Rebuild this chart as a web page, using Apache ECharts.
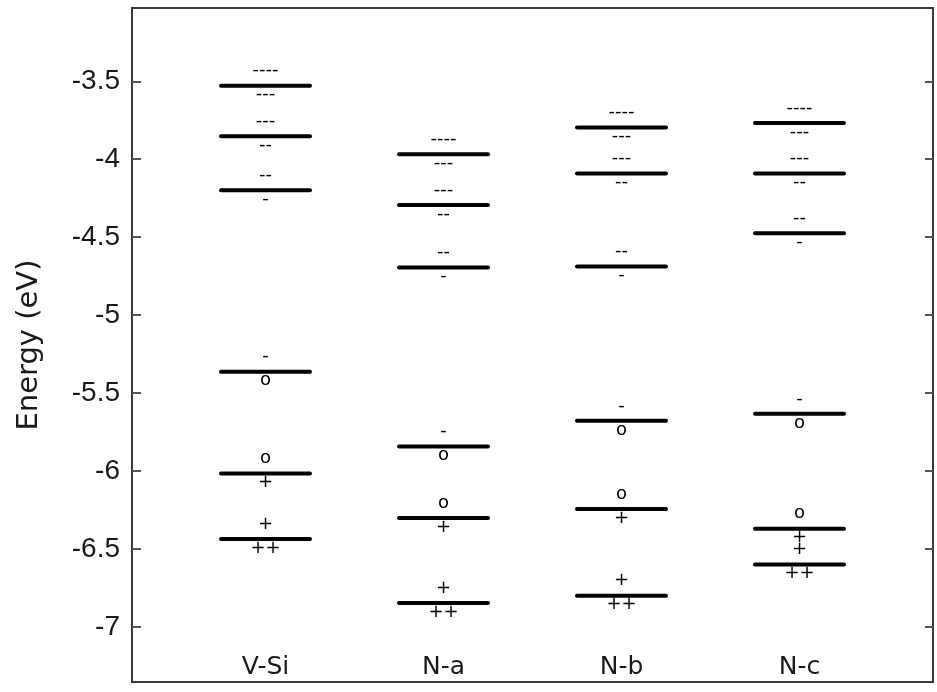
<!DOCTYPE html>
<html>
<head>
<meta charset="utf-8">
<script src="https://cdn.jsdelivr.net/npm/echarts@6/dist/echarts.min.js"></script>
<style>
html,body{margin:0;padding:0;background:#fff;}
#chart{width:937px;height:692px;}
</style>
</head>
<body>
<div id="chart"></div>
<script>
// ---- data ----
const categories = ["V-Si", "N-a", "N-b", "N-c"];
const vsiLevels = [-3.528, -3.853, -4.199, -5.363, -6.015, -6.436];
const naLevels  = [-3.968, -4.293, -4.695, -5.842, -6.301, -6.846];
const nbLevels  = [-3.797, -4.092, -4.688, -5.678, -6.244, -6.799];
const ncLevels  = [-3.767, -4.092, -4.474, -5.633, -6.370, -6.599];
const aboveLabels = ["----", "---", "--", "-", "o", "+"];
const belowLabels = ["---", "--", "-", "o", "+", "++"];
const yTickValues = [-7, -6.5, -6, -5.5, -5, -4.5, -4, -3.5];
const yAxisName = "Energy (eV)";

const allLevels = [vsiLevels, naLevels, nbLevels, ncLevels];
const seriesData = [];
allLevels.forEach((levels, ci) => {
  levels.forEach((e, li) => {
    seriesData.push([ci + 1, e, aboveLabels[li], belowLabels[li]]);
  });
});

const HALF_W = 0.25;
const chart = echarts.init(document.getElementById('chart'), null, {renderer: 'canvas'});
const axisColor = '#3a3a3a';
const tickColor = '#555';

const option = {
  animation: false,
  backgroundColor: '#fff',
  grid: {left: 132, right: 4, top: 8, bottom: 10, show: true, borderColor: axisColor, borderWidth: 2, backgroundColor: 'transparent'},
  xAxis: [{
    type: 'value', min: 0.25, max: 4.75,
    splitLine: {show: false},
    axisLine: {show: true, lineStyle: {color: axisColor, width: 2}},
    axisTick: {show: false},
    axisLabel: {
      show: true, inside: true, margin: 2,
      customValues: [1, 2, 3, 4],
      formatter: v => categories[Math.round(v) - 1] || '',
      fontFamily: 'DejaVu Sans', fontSize: 25, color: '#1a1a1a', verticalAlign: 'bottom'
    }
  }],
  yAxis: [{
    type: 'value', min: -7.353, max: -3.03,
    position: 'left',
    name: yAxisName, nameLocation: 'middle', nameGap: 88, nameRotate: 90,
    nameTextStyle: {fontFamily: 'DejaVu Sans', fontSize: 29, color: '#1a1a1a'},
    splitLine: {show: false},
    axisLine: {show: true, lineStyle: {color: axisColor, width: 2}},
    axisTick: {show: true, inside: true, length: 9, customValues: yTickValues, lineStyle: {color: tickColor, width: 2}},
    axisLabel: {customValues: yTickValues, margin: 12, fontFamily: 'Liberation Sans', fontSize: 28, color: '#1a1a1a'}
  }, {
    type: 'value', min: -7.353, max: -3.03,
    position: 'right',
    splitLine: {show: false},
    axisLine: {show: true, lineStyle: {color: axisColor, width: 2}},
    axisTick: {show: true, inside: true, length: 8, customValues: yTickValues, lineStyle: {color: tickColor, width: 2}},
    axisLabel: {show: false}
  }],
  series: [{
    type: 'custom',
    xAxisIndex: 0, yAxisIndex: 0,
    data: seriesData,
    renderItem: function (params, api) {
      const x = api.value(0), y = api.value(1);
      const p1 = api.coord([x - HALF_W, y]);
      const p2 = api.coord([x + HALF_W, y]);
      const cx = (p1[0] + p2[0]) / 2;
      const above = seriesData[params.dataIndex][2];
      const below = seriesData[params.dataIndex][3];
      return {
        type: 'group',
        children: [{
          type: 'line',
          shape: {x1: p1[0], y1: p1[1], x2: p2[0], y2: p2[1]},
          style: {stroke: '#000', lineWidth: 4, lineCap: 'round'}
        }, {
          type: 'text',
          style: {text: above, x: cx, y: p1[1] - 15, align: 'center', verticalAlign: 'middle',
                  fontFamily: 'DejaVu Sans', fontSize: 18, fill: '#000'}
        }, {
          type: 'text',
          style: {text: below, x: cx, y: p1[1] + 9, align: 'center', verticalAlign: 'middle',
                  fontFamily: 'DejaVu Sans', fontSize: 18, fill: '#000'}
        }]
      };
    }
  }]
};
chart.setOption(option);
</script>
</body>
</html>
